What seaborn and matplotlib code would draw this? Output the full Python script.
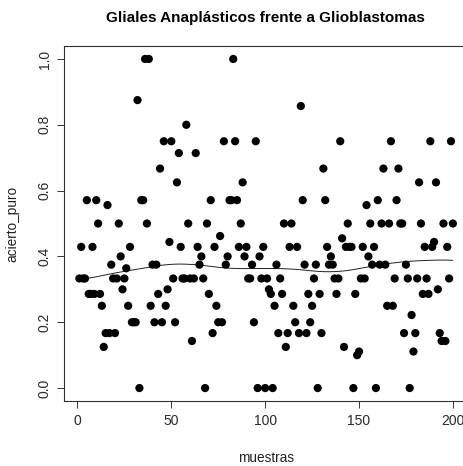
import numpy as np
import pandas as pd
import matplotlib
matplotlib.use("Agg")
import matplotlib.pyplot as plt
import seaborn as sns

# Fraction of correct hits per sample (muestras 1..200)
acierto_puro = [
    0.333, 0.429, 0.333, 0.333, 0.571, 0.286, 0.286, 0.429, 0.286, 0.571,
    0.5, 0.286, 0.25, 0.125, 0.167, 0.556, 0.167, 0.375, 0.333, 0.167,
    0.333, 0.5, 0.4, 0.3, 0.333, 0.364, 0.25, 0.429, 0.2, 0.2,
    0.2, 0.875, 0.0, 0.571, 0.571, 1.0, 0.5, 1.0, 0.25, 0.375,
    0.2, 0.375, 0.286, 0.667, 0.2, 0.75, 0.25, 0.3, 0.444, 0.75,
    0.333, 0.2, 0.625, 0.714, 0.429, 0.333, 0.333, 0.8, 0.5, 0.333,
    0.143, 0.333, 0.714, 0.429, 0.375, 0.4, 0.333, 0.0, 0.5, 0.286,
    0.571, 0.167, 0.429, 0.25, 0.2, 0.462, 0.2, 0.75, 0.375, 0.4,
    0.571, 0.571, 1.0, 0.75, 0.571, 0.429, 0.5, 0.625, 0.4, 0.429,
    0.333, 0.333, 0.375, 0.2, 0.75, 0.0, 0.4, 0.333, 0.429, 0.0,
    0.333, 0.3, 0.286, 0.0, 0.25, 0.375, 0.167, 0.333, 0.286, 0.5,
    0.125, 0.167, 0.429, 0.5, 0.25, 0.2, 0.429, 0.167, 0.857, 0.571,
    0.375, 0.167, 0.286, 0.2, 0.25, 0.333, 0.375, 0.0, 0.286, 0.167,
    0.667, 0.571, 0.429, 0.375, 0.4, 0.375, 0.333, 0.286, 0.333, 0.75,
    0.455, 0.125, 0.429, 0.5, 0.429, 0.429, 0.0, 0.286, 0.1, 0.111,
    0.333, 0.429, 0.333, 0.556, 0.4, 0.5, 0.375, 0.429, 0.0, 0.571,
    0.375, 0.5, 0.667, 0.375, 0.25, 0.5, 0.75, 0.25, 0.333, 0.571,
    0.667, 0.5, 0.5, 0.167, 0.375, 0.333, 0.0, 0.222, 0.111, 0.167,
    0.333, 0.625, 0.5, 0.286, 0.429, 0.333, 0.286, 0.75, 0.429, 0.444,
    0.625, 0.3, 0.167, 0.143, 0.5, 0.143, 0.429, 0.333, 0.75, 0.5,
]
muestras = list(range(1, len(acierto_puro) + 1))

x_ticks = [0, 50, 100, 150, 200]
y_ticks = [0.0, 0.2, 0.4, 0.6, 0.8, 1.0]
y_ticklabels = ["0.0", "0.2", "0.4", "0.6", "0.8", "1.0"]
titulo = "Gliales Anaplásticos frente a Glioblastomas"


def lowess(x, y, f=2 / 3, iters=3):
    """Locally weighted linear smoother (Cleveland), robust iterations."""
    x = np.asarray(x, float)
    y = np.asarray(y, float)
    n = len(x)
    r = max(min(int(round(f * n)), n), 2)
    h = np.array([np.sort(np.abs(x - x[i]))[r - 1] for i in range(n)])
    w = np.clip(np.abs((x[:, None] - x[None, :]) / h[:, None]), 0.0, 1.0)
    w = (1 - w ** 3) ** 3
    delta = np.ones(n)
    yest = np.zeros(n)
    for _ in range(iters + 1):
        for i in range(n):
            wt = delta * w[:, i]
            b = np.array([np.sum(wt * y), np.sum(wt * y * x)])
            A = np.array([[np.sum(wt), np.sum(wt * x)],
                          [np.sum(wt * x), np.sum(wt * x * x)]])
            beta = np.linalg.solve(A, b)
            yest[i] = beta[0] + beta[1] * x[i]
        resid = y - yest
        s = np.median(np.abs(resid))
        if s == 0:
            break
        delta = np.clip(resid / (6.0 * s), -1, 1)
        delta = (1 - delta ** 2) ** 2
    return yest


df = pd.DataFrame({"muestras": muestras, "acierto_puro": acierto_puro})
suave = lowess(df["muestras"], df["acierto_puro"])

sns.set_style("white")
plt.rcParams["font.family"] = ["Liberation Sans", "DejaVu Sans"]

fig = plt.figure(figsize=(4.64, 4.66), dpi=100)
ax = fig.add_axes([0.1388, 0.139, 0.8694, 0.7627])

sns.scatterplot(data=df, x="muestras", y="acierto_puro", ax=ax,
                color="black", s=35, linewidth=0, edgecolor="none", zorder=3)
ax.plot(df["muestras"], suave, color="#222222", linewidth=0.7, zorder=2)

n = len(muestras)
ax.set_xlim(1 - 0.04 * (n - 1), n + 0.04 * (n - 1))
ax.set_ylim(-0.04, 1.04)

ax.set_xticks(x_ticks)
ax.set_xticklabels([str(t) for t in x_ticks])
ax.set_yticks(y_ticks)
ax.set_yticklabels(y_ticklabels, rotation=90, va="center")

ax.tick_params(axis="both", direction="out", length=5, width=0.7,
               color="#333333", labelsize=10, labelcolor="#2a2a2a", pad=4,
               bottom=True, left=True)

for name, sp in ax.spines.items():
    sp.set_visible(name != "right")
    sp.set_color("#333333")
    sp.set_linewidth(0.8)

ax.set_xlabel("muestras", fontsize=9.8, color="#222222", labelpad=17)
ax.set_ylabel("acierto_puro", fontsize=9.8, color="#222222", labelpad=13)
ax.grid(False)

fig.text(0.573, 0.962, titulo, ha="center", va="center",
         fontsize=11, fontweight="bold", color="black")

fig.savefig("out.png", dpi=100)
